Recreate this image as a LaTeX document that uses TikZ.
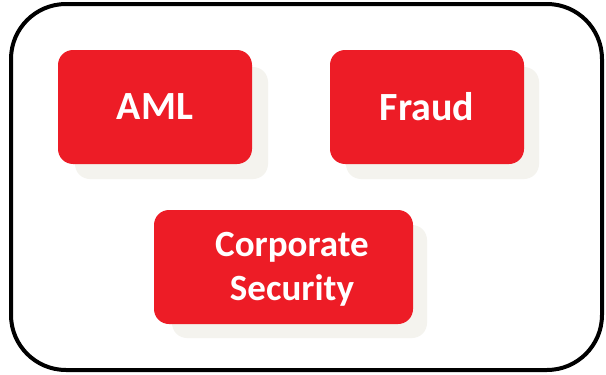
\documentclass[tikz,border=0pt]{standalone}
\usepackage{fontspec}
\setmainfont{Carlito}
\begin{document}
\begin{tikzpicture}[x=1pt,y=-1pt,
  frame/.style={draw=black,line width=4pt,rounded corners=55pt},
  card/.style={fill=cardred,rounded corners=15pt},
  cardshadow/.style={fill=shadowgrey,rounded corners=15pt},
  label/.style={text=white,font=\bfseries\fontsize{40}{44}\selectfont,align=center}]
\definecolor{cardred}{HTML}{ED1C26}
\definecolor{shadowgrey}{HTML}{F4F3EE}
\useasboundingbox (0,0) rectangle (606,375);
\fill[white] (0,0) rectangle (606,375);
% outer frame
\draw[frame] (11,4) rectangle (602,370);
% shadows behind the cards
\fill[cardshadow] (75,67) rectangle (268,179);
\fill[cardshadow] (346,67) rectangle (539,179);
\fill[cardshadow] (172,225) rectangle (427,338);
% cards
\fill[card] (58,50) rectangle (252,164);
\fill[card] (330,50) rectangle (524,164);
\fill[card] (154,210) rectangle (413,324);
% labels
\node[label] (aml) at (155,107) {AML};
\node[label] (fraud) at (427,107) {Fraud};
\node[label,font=\bfseries\fontsize{37}{44}\selectfont] (corp) at (292,269) {Corporate\\Security};
\end{tikzpicture}
\end{document}
